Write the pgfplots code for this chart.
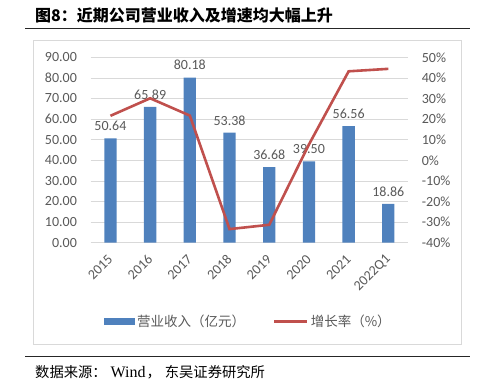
\documentclass[border=0pt]{standalone}
\usepackage{pgfplots}
\pgfplotsset{compat=1.18}
\usepackage{fontspec}
\setmainfont{Carlito}
\newfontfamily\cjk{Noto Sans CJK SC}
\newfontfamily\timesf{Liberation Serif}
\definecolor{barblue}{RGB}{79,129,189}
\definecolor{linered}{RGB}{192,80,77}
\definecolor{gridgray}{RGB}{217,217,217}
\definecolor{ticktext}{RGB}{89,89,89}
\pgfplotsset{/pgf/number format/assume math mode=true}
\begin{document}
\begin{tikzpicture}
\path[use as bounding box] (0bp,0bp) rectangle (483bp,-388bp);
% title
\node[anchor=west, inner sep=0pt] at (35bp,-15bp) {\cjk\bfseries\fontsize{16bp}{18bp}\selectfont 图8：近期公司营业收入及增速均大幅上升};
\draw[line width=1.3bp, color=black!85] (25bp,-28.5bp) -- (470bp,-28.5bp);
\draw[line width=0.75bp, color=gridgray] (33bp,-40bp) rectangle (461bp,-344bp);
\draw[line width=1.3bp, color=black!85] (25bp,-356.7bp) -- (470bp,-356.7bp);
\node[anchor=west, inner sep=0pt] at (35bp,-372bp) {\fontsize{14.3bp}{16bp}\selectfont{\cjk 数据来源：}\hspace{4bp}{\timesf\fontsize{16bp}{18bp}\selectfont Wind}\hspace{1bp}{\cjk ，}\hspace{4bp}{\cjk 东吴证券研究所}};
\begin{axis}[
  at={(90.6bp,-242.7bp)}, anchor=south west,
  scale only axis, width=317.6bp, height=185.4bp,
  xmin=-0.5, xmax=7.5, ymin=0, ymax=90,
  ytick={0,10,...,90},
  xtick={0,...,7},
  xticklabels={2015,2016,2017,2018,2019,2020,2021,2022Q1},
  yticklabel={\pgfmathprintnumber[fixed,fixed zerofill,precision=2]{\tick}},
  ymajorgrids, grid style={gridgray, line width=0.75bp},
  axis line style={draw=none},
  major tick length=0pt,
  tick label style={font=\fontsize{14bp}{16bp}\selectfont, color=ticktext},
  yticklabel style={anchor=east, inner sep=0pt},
  yticklabel shift=13.5bp,
  xticklabel style={rotate=45, anchor=east, inner sep=0pt},
  xticklabel shift=14bp,
  legend style={at={(0.497,-0.426)}, anchor=center, draw=none, fill=none,
    legend columns=2, font=\cjk\fontsize{13.5bp}{15bp}\selectfont, text=ticktext,
    /tikz/every even column/.append style={column sep=26bp}},
]
\addplot[ybar, bar width=12.3bp, fill=barblue, draw=none,
  nodes near coords={\pgfmathprintnumber[fixed,fixed zerofill,precision=2]{\pgfplotspointmeta}},
  nodes near coords style={font=\fontsize{14bp}{16bp}\selectfont, color=ticktext, yshift=4bp},
  legend image code/.code={\fill[barblue] (0bp,-3.8bp) rectangle (31bp,3.8bp);}]
  coordinates {(0,50.64) (1,65.89) (2,80.18) (3,53.38) (4,36.68) (5,39.50) (6,56.56) (7,18.86)};
\addlegendentry{营业收入（亿元）}
\addlegendimage{linered, line width=2.6bp, legend image code/.code={\draw[linered, line width=2.6bp] (0bp,0bp) -- (33bp,0bp);}}
\addlegendentry{增长率（\%）}
\end{axis}
\begin{axis}[
  at={(90.6bp,-242.7bp)}, anchor=south west,
  scale only axis, width=317.6bp, height=185.4bp,
  xmin=-0.5, xmax=7.5, ymin=-40, ymax=50,
  ytick={-40,-30,...,50},
  axis y line*=right, axis x line=none,
  axis line style={draw=none},
  major tick length=0pt,
  yticklabel={\pgfmathprintnumber{\tick}\%},
  tick label style={font=\fontsize{14bp}{16bp}\selectfont, color=ticktext},
  yticklabel style={anchor=west, inner sep=0pt},
  yticklabel shift=13.5bp,
]
\addplot[linered, line width=2.6bp, mark=none] coordinates {(0,21.6) (1,30.1) (2,21.7) (3,-33.4) (4,-31.3) (5,7.7) (6,43.2) (7,44.4)};
\end{axis}
\end{tikzpicture}
\end{document}
